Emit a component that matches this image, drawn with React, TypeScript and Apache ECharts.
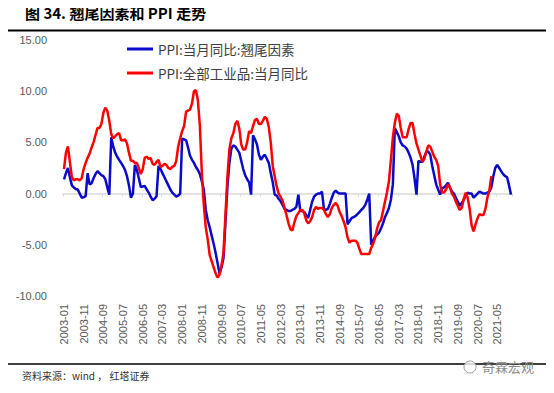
import React, { useEffect, useRef } from "react";
import * as echarts from "echarts";

const CJK = '"Noto Sans CJK SC", "Noto Sans", sans-serif';
const NUM = '"Liberation Sans", "DejaVu Sans", sans-serif';

const startYear = 2003;
const endYear = 2021;
const categories: string[] = [];
for (let y = startYear; y <= endYear; y++) {
  for (let m = 1; m <= 12; m++) categories.push(`${y}-${String(m).padStart(2, "0")}`);
}

const blueName = "PPI:当月同比:翘尾因素";
const redName = "PPI:全部工业品:当月同比";

// PPI carry-over factor (翘尾因素), monthly 2003-01 .. 2021-12
const carryOver: number[] = [
  1.4, 2.0, 2.5, 1.6, 0.8, 0.6, 0.45, 0.4, 0.0, -0.4, -0.35, -0.25,
  2.0, 0.9, 1.0, 1.5, 1.9, 2.2, 2.0, 1.8, 1.7, 1.4, 0.6, -0.1,
  5.5, 4.6, 4.0, 3.6, 3.3, 3.0, 2.7, 2.3, 1.7, 0.8, -0.4, 0.0,
  2.8, 2.3, 1.5, 0.65, 0.7, 0.75, 0.4, 0.1, -0.3, -0.65, -0.5, -0.25,
  2.7, 2.4, 2.0, 1.6, 1.2, 0.8, 0.4, 0.1, -0.1, -0.3, -0.2, 0.0,
  5.35, 5.3, 5.2, 4.5, 3.7, 3.3, 3.0, 2.6, 2.3, 1.9, 1.2, 0.4,
  -1.6, -2.6, -3.3, -4.1, -4.9, -5.8, -6.8, -7.8, -7.2, -6.3, -2.8, 0.7,
  3.0, 4.4, 4.7, 4.6, 4.3, 4.0, 3.2, 2.4, 1.8, 1.4, 1.1, -0.1,
  5.7, 5.3, 4.8, 3.8, 3.3, 3.6, 3.8, 3.4, 3.0, 2.0, 1.1, -0.1,
  -0.2, -0.5, -0.75, -1.1, -1.5, -1.6, -1.7, -1.7, -1.6, -1.5, -1.3, -0.1,
  -1.7, -1.7, -1.8, -2.1, -2.4, -1.6, -0.8, -0.3, -0.1, 0.0, 0.0, 0.2,
  -1.5, -1.6, -1.5, -1.0, -0.4, 0.1, 0.3, 0.1, 0.0, 0.0, 0.0, 0.0,
  -3.0, -2.7, -2.4, -2.3, -2.2, -2.0, -1.8, -1.6, -1.4, -1.1, -0.6, 0.0,
  -5.0, -4.6, -4.2, -4.0, -3.8, -3.4, -2.9, -2.3, -1.9, -1.4, -0.6, 0.9,
  6.4, 6.0, 5.6, 5.0, 4.7, 4.6, 4.4, 4.0, 3.5, 2.8, 1.5, -0.1,
  3.2, 3.1, 3.1, 3.6, 4.1, 4.1, 3.8, 2.7, 1.8, 0.9, 0.4, -0.1,
  0.5, 0.6, 0.8, 1.05, 0.6, 0.2, 0.0, -0.4, -0.8, -1.2, -0.9, -0.6,
  -0.2, 0.1, 0.0, 0.0, -0.4, -0.2, 0.0, 0.2, 0.1, 0.0, 0.0, 0.1,
  0.2, 0.6, 1.7, 2.5, 2.8, 2.5, 2.2, 1.9, 1.7, 1.6, 0.8, -0.1,
];

// PPI YoY, monthly 2003-01 .. 2021-02
const ppiYoY: number[] = [
  2.4, 4.0, 4.6, 3.1, 1.6, 1.3, 1.4, 1.4, 1.3, 1.5, 2.4, 3.0,
  3.5, 3.9, 4.5, 5.0, 5.7, 6.4, 6.4, 6.8, 7.9, 8.4, 8.1, 7.1,
  5.8, 5.4, 5.6, 5.8, 5.9, 5.2, 5.2, 5.3, 4.9, 4.0, 3.2, 3.2,
  3.0, 3.0, 2.5, 1.9, 2.4, 3.5, 3.6, 3.4, 3.5, 2.9, 2.8, 3.1,
  3.3, 2.6, 2.7, 2.9, 2.8, 2.5, 2.4, 2.6, 2.7, 3.2, 4.6, 5.4,
  6.1, 6.6, 8.0, 8.1, 8.2, 8.8, 10.0, 10.1, 9.1, 6.6, 2.0, -1.1,
  -3.3, -4.5, -6.0, -6.6, -7.2, -7.8, -8.2, -7.9, -7.0, -5.8, -2.1, 1.7,
  4.3, 5.4, 5.9, 6.8, 7.1, 6.4, 4.8, 4.3, 4.3, 5.0, 6.1, 5.9,
  6.6, 7.2, 7.3, 6.8, 6.8, 7.1, 7.5, 7.3, 6.5, 5.0, 2.7, 1.7,
  0.7, 0.0, -0.3, -0.7, -1.4, -2.1, -2.9, -3.5, -3.6, -2.8, -2.2, -1.9,
  -1.6, -1.6, -1.9, -2.6, -2.9, -2.7, -2.3, -1.6, -1.3, -1.5, -1.4, -1.4,
  -1.6, -2.0, -2.3, -2.0, -1.4, -1.1, -0.9, -1.2, -1.8, -2.2, -2.7, -3.3,
  -4.3, -4.8, -4.6, -4.6, -4.6, -4.8, -5.4, -5.9, -5.9, -5.9, -5.9, -5.9,
  -5.3, -4.9, -4.3, -3.4, -2.8, -2.6, -1.7, -0.8, 0.1, 1.2, 3.3, 5.5,
  6.9, 7.8, 7.6, 6.4, 5.5, 5.5, 5.5, 6.3, 6.9, 6.9, 5.8, 4.9,
  4.3, 3.7, 3.1, 3.4, 4.1, 4.7, 4.6, 4.1, 3.6, 3.3, 2.7, 0.9,
  0.1, 0.1, 0.4, 0.9, 0.6, 0.0, -0.3, -0.8, -1.2, -1.6, -1.4, -0.5,
  0.1, -0.4, -1.5, -3.1, -3.7, -3.0, -2.4, -2.0, -2.1, -2.1, -1.5, -0.4,
  0.3, 1.7,
];

const yMin = -10;
const yMax = 15;
const yStep = 5;

const titleText = "图 34. 翘尾因素和 PPI 走势";
const sourceText = "资料来源：wind ， 红塔证券";
const watermarkText = "奇霖宏观";

export default function App() {
  const ref = useRef<HTMLDivElement>(null);
  useEffect(() => {
    if (!ref.current) return;
    const chart = echarts.init(ref.current, undefined, { renderer: "svg" });
    chart.setOption({
      animation: false,
      backgroundColor: "#ffffff",
      grid: { left: 63, right: 42, top: 40, bottom: 97, containLabel: false },
      legend: {
        orient: "vertical",
        left: 127,
        top: 41,
        padding: 0,
        icon: "rect",
        itemWidth: 26,
        itemHeight: 3,
        itemGap: 8,
        textStyle: { fontFamily: CJK, fontSize: 13.5, color: "#404040", lineHeight: 16 },
        data: [blueName, redName],
      },
      xAxis: [
        {
          type: "category",
          data: categories,
          boundaryGap: true,
          position: "bottom",
          axisLine: { show: false, onZero: false },
          axisTick: { show: false },
          splitLine: { show: false },
          axisLabel: {
            interval: 9,
            rotate: 90,
            margin: 8,
            color: "#595959",
            fontSize: 11,
            fontFamily: NUM,
          },
        },
        {
          type: "category",
          data: categories,
          boundaryGap: true,
          position: "bottom",
          axisLine: { show: true, onZero: true, lineStyle: { color: "#D9D9D9", width: 1.5 } },
          axisTick: { show: true, interval: 9, length: 3, lineStyle: { color: "#D9D9D9" } },
          axisLabel: { show: false },
          splitLine: { show: false },
        },
      ],
      yAxis: {
        type: "value",
        min: yMin,
        max: yMax,
        interval: yStep,
        axisLine: { show: false },
        axisTick: { show: false },
        splitLine: { show: false },
        axisLabel: {
          margin: 16,
          color: "#595959",
          fontSize: 11,
          fontFamily: NUM,
          formatter: (v: number) => v.toFixed(2),
        },
      },
      series: [
        {
          name: blueName,
          type: "line",
          data: carryOver,
          symbol: "none",
          lineStyle: { color: "#0A0AC8", width: 2.5 },
          itemStyle: { color: "#0A0AC8" },
        },
        {
          name: redName,
          type: "line",
          data: ppiYoY,
          symbol: "none",
          lineStyle: { color: "#FF0000", width: 2.5 },
          itemStyle: { color: "#FF0000" },
        },
      ],
      graphic: [
        {
          type: "text",
          left: 25,
          top: 5,
          style: { text: titleText, font: `bold 15px ${CJK}`, fill: "#000000" },
        },
        {
          type: "line",
          shape: { x1: 5, y1: 30.5, x2: 549, y2: 30.5 },
          style: { stroke: "#000000", lineWidth: 2 },
        },
        {
          type: "line",
          shape: { x1: 5, y1: 364, x2: 549, y2: 364 },
          style: { stroke: "#000000", lineWidth: 1.5 },
        },
        {
          type: "text",
          left: 22,
          top: 370,
          style: { text: sourceText, font: `10px ${CJK}`, fill: "#333333" },
        },
        {
          type: "circle",
          shape: { cx: 470, cy: 367, r: 6 },
          style: { fill: "rgba(255,255,255,0.8)", stroke: "#9a9a9a", lineWidth: 1 },
        },
        {
          type: "text",
          left: 482,
          top: 360,
          style: { text: watermarkText, font: `13px ${CJK}`, fill: "#8a8a8a" },
        },
      ],
    });
    return () => chart.dispose();
  }, []);
  return <div ref={ref} style={{ width: 554, height: 393, margin: -8 }} />;
}
